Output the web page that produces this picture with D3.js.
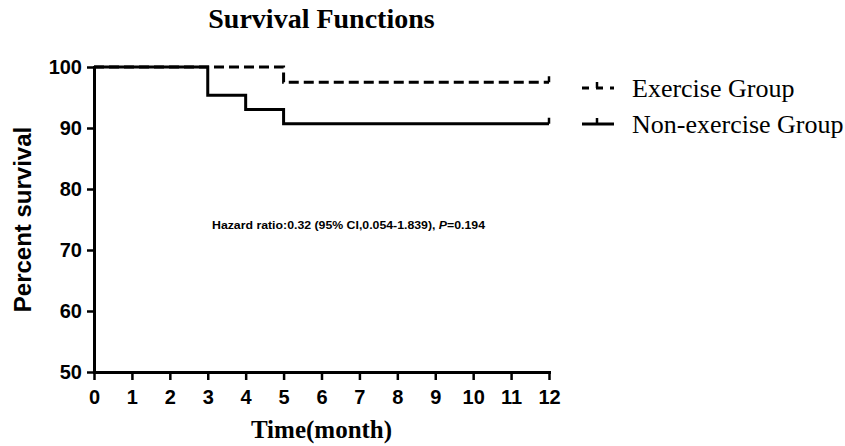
<!DOCTYPE html>
<html>
<head>
<meta charset="utf-8">
<script src="https://cdn.jsdelivr.net/npm/d3@7"></script>
<style>
  body { margin: 0; background: #fff; }
  svg { display: block; }
</style>
</head>
<body>
<div id="chart"></div>
<script>
// survival data (Kaplan-Meier steps, percent)
var monthTicks = [0, 1, 2, 3, 4, 5, 6, 7, 8, 9, 10, 11, 12];
var percentTicks = [50, 60, 70, 80, 90, 100];
var exerciseTimes = [0, 5, 12];
var exerciseSurvival = [100, 97.5, 97.5];
var nonExerciseTimes = [0, 3, 4, 5, 12];
var nonExerciseSurvival = [100, 95.35, 93.02, 90.70, 90.70];
var groupNames = ['Exercise Group', 'Non-exercise Group'];

var w = 845;
var h = 446;
var plotLeft = 94, plotRight = 549, plotTop = 67, plotBottom = 372;

var svg = d3.select('#chart').append('svg')
    .attr('width', w)
    .attr('height', h);

var x = d3.scaleLinear().domain([0, 12]).range([plotLeft, plotRight]);
var y = d3.scaleLinear().domain([50, 100]).range([plotBottom, plotTop]);

function toPoints(times, values) {
    return times.map(function (t, i) { return [t, values[i]]; });
}

var series = [
    {name: groupNames[0], points: toPoints(exerciseTimes, exerciseSurvival), dash: '10,5'},
    {name: groupNames[1], points: toPoints(nonExerciseTimes, nonExerciseSurvival), dash: null}
];

// title
svg.append('text')
    .attr('x', (plotLeft + plotRight) / 2)
    .attr('y', 28)
    .attr('text-anchor', 'middle')
    .style('font-family', '"Liberation Serif", "Times New Roman", serif')
    .style('font-weight', 'bold')
    .style('font-size', '28px')
    .text('Survival Functions');

// axes
var yAxis = d3.axisLeft(y).tickValues(percentTicks).tickSize(7).tickPadding(5).tickSizeOuter(0);
var xAxis = d3.axisBottom(x).tickValues(monthTicks).tickSize(8).tickPadding(10).tickSizeOuter(0);

var gy = svg.append('g').attr('transform', 'translate(' + plotLeft + ',0)').call(yAxis);
var gx = svg.append('g').attr('transform', 'translate(0,' + plotBottom + ')').call(xAxis);

[gx, gy].forEach(function (g) {
    g.select('.domain').attr('stroke', '#000').attr('stroke-width', 3).attr('stroke-linecap', 'square');
    g.selectAll('.tick line').attr('stroke', '#000').attr('stroke-width', 2.5);
    g.selectAll('.tick text')
        .attr('fill', '#000')
        .style('font-family', '"Liberation Sans", Arial, sans-serif')
        .style('font-weight', 'bold')
        .style('font-size', '20px');
});

// axis titles
svg.append('text')
    .attr('transform', 'translate(31,' + ((plotTop + plotBottom) / 2) + ') rotate(-90)')
    .attr('text-anchor', 'middle')
    .style('font-family', '"Liberation Sans", Arial, sans-serif')
    .style('font-weight', 'bold')
    .style('font-size', '24px')
    .text('Percent survival');

svg.append('text')
    .attr('x', (plotLeft + plotRight) / 2)
    .attr('y', 438)
    .attr('text-anchor', 'middle')
    .style('font-family', '"Liberation Serif", "Times New Roman", serif')
    .style('font-weight', 'bold')
    .style('font-size', '25px')
    .text('Time(month)');

// survival curves
var line = d3.line()
    .x(function (d) { return x(d[0]); })
    .y(function (d) { return y(d[1]); })
    .curve(d3.curveStepAfter);

series.forEach(function (s) {
    svg.append('path')
        .datum(s.points)
        .attr('d', line)
        .attr('fill', 'none')
        .attr('stroke', '#000')
        .attr('stroke-width', 3)
        .attr('stroke-dasharray', s.dash);

    // censor mark at the end
    var last = s.points[s.points.length - 1];
    svg.append('line')
        .attr('x1', x(last[0])).attr('x2', x(last[0]))
        .attr('y1', y(last[1])).attr('y2', y(last[1]) - 6)
        .attr('stroke', '#000')
        .attr('stroke-width', 2.5);
});

// hazard ratio note
var note = svg.append('text')
    .attr('x', 212)
    .attr('y', 228.5)
    .attr('textLength', 273)
    .attr('lengthAdjust', 'spacingAndGlyphs')
    .style('font-family', '"Liberation Sans", Arial, sans-serif')
    .style('font-weight', 'bold')
    .style('font-size', '11.5px');
note.append('tspan').text('Hazard ratio:0.32 (95% CI,0.054-1.839), ');
note.append('tspan').style('font-style', 'italic').text('P');
note.append('tspan').text('=0.194');

// legend
var legendY = [88, 124];
series.forEach(function (s, i) {
    var g = svg.append('g').attr('transform', 'translate(0,' + legendY[i] + ')');
    g.append('line')
        .attr('x1', 582).attr('x2', 614)
        .attr('y1', 0).attr('y2', 0)
        .attr('stroke', '#000')
        .attr('stroke-width', 3)
        .attr('stroke-dasharray', s.dash ? '7,7' : null);
    g.append('line')
        .attr('x1', 597).attr('x2', 597)
        .attr('y1', 0).attr('y2', -6)
        .attr('stroke', '#000')
        .attr('stroke-width', 2.5);
    g.append('text')
        .attr('x', 632)
        .attr('y', 9)
        .style('font-family', '"Liberation Serif", "Times New Roman", serif')
        .style('font-size', '26px')
        .text(s.name);
});
</script>
</body>
</html>
